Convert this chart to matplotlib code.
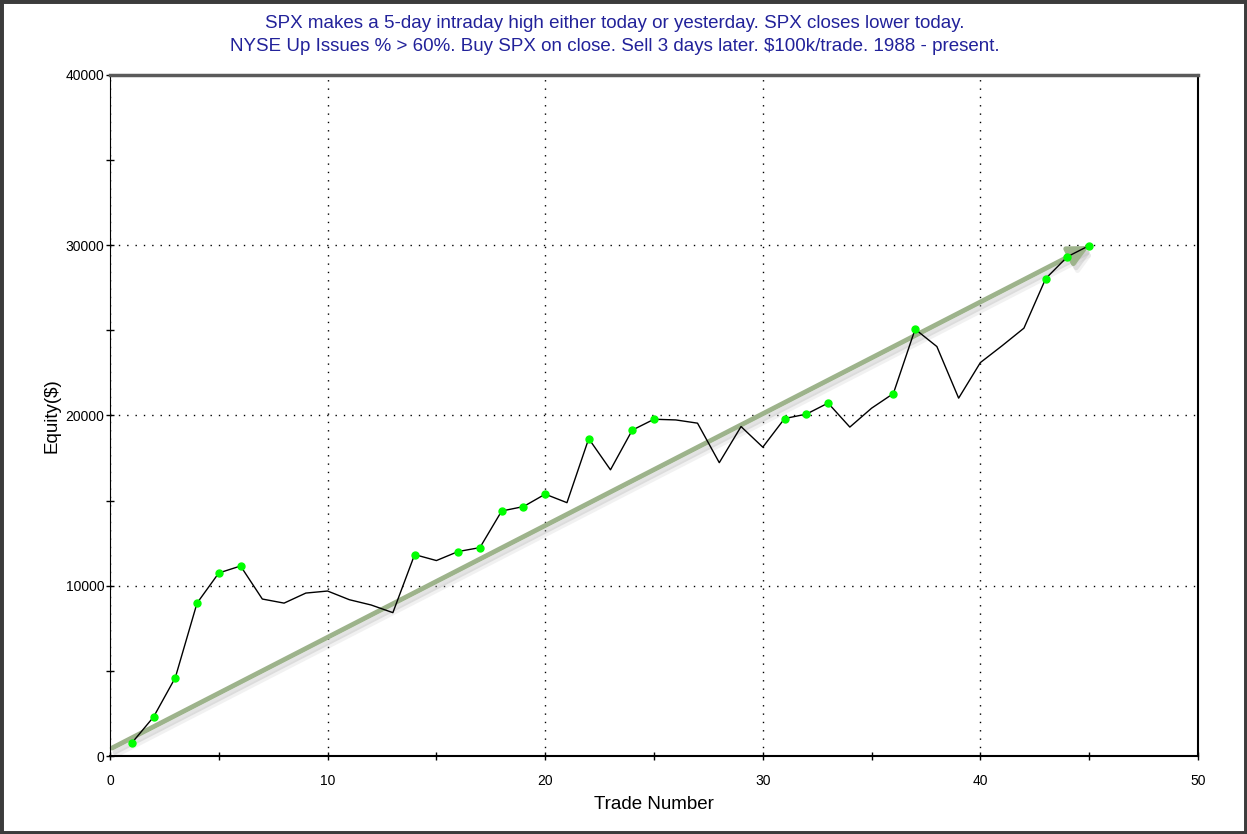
import matplotlib
matplotlib.use("Agg")
import matplotlib.pyplot as plt
import matplotlib.patheffects as pe
from matplotlib.patches import Rectangle
from matplotlib.ticker import MultipleLocator

# Equity curve per trade
trades = list(range(1, 46))
equity = [760, 2290, 4600, 8980, 10750, 11160, 9220, 8980, 9570, 9690,
          9180, 8870, 8420, 11830, 11480, 12010, 12240, 14390, 14650, 15380,
          14880, 18640, 16810, 19140, 19780, 19740, 19550, 17230, 19350, 18140,
          19820, 20080, 20730, 19320, 20430, 21290, 25070, 24050, 21020, 23110,
          24100, 25130, 28040, 29330, 29980]
# trades marked with a green dot (new equity highs)
marked = [1, 2, 3, 4, 5, 6, 14, 16, 17, 18, 19, 20, 22, 24, 25,
          31, 32, 33, 36, 37, 43, 44, 45]
# trend arrow end points
trend_x = [0.1, 45]
trend_y = [470, 29950]

title = ("SPX makes a 5-day intraday high either today or yesterday. SPX closes lower today.\n"
         "NYSE Up Issues % > 60%. Buy SPX on close. Sell 3 days later. $100k/trade. 1988 - present.")

plt.rcParams['font.family'] = ['Liberation Sans', 'DejaVu Sans']

fig = plt.figure(figsize=(12.47, 8.34), dpi=100)
ax = fig.add_axes([110 / 1247, 1 - 756 / 834, 1088 / 1247, 681 / 834])

ax.plot(trades, equity, color='black', lw=1, zorder=3)
mx = [t for t in marked]
my = [equity[t - 1] for t in marked]
ax.plot(mx, my, 'o', color='#00ff00', ms=5, mec='#00ff00', zorder=4)

ax.annotate('', xy=(trend_x[1], trend_y[1]), xytext=(trend_x[0], trend_y[0]),
            arrowprops=dict(arrowstyle='-|>', color='#9db38b', lw=3.5,
                            mutation_scale=30, shrinkA=0, shrinkB=0,
                            path_effects=[pe.SimpleLineShadow(offset=(2, -3), shadow_color='#b0b0b0', alpha=0.35),
                                          pe.SimpleLineShadow(offset=(3, -5), shadow_color='#c8c8c8', alpha=0.25),
                                          pe.Normal()]),
            zorder=2)

ax.set_xlim(0, 50)
ax.set_ylim(0, 40000)
ax.xaxis.set_major_locator(MultipleLocator(10))
ax.xaxis.set_minor_locator(MultipleLocator(5))
ax.yaxis.set_major_locator(MultipleLocator(10000))
ax.yaxis.set_minor_locator(MultipleLocator(5000))
ax.tick_params(which='both', direction='inout', length=6, width=1, labelsize=10)
ax.tick_params(axis='x', pad=10)
ax.tick_params(axis='y', pad=1)
ax.grid(True, which='major', color='black', linestyle=(0, (1, 5)), lw=1)

ax.spines['top'].set_color('#5a5a5a')
ax.spines['top'].set_linewidth(2.5)
ax.spines['right'].set_linewidth(1.5)
ax.spines['bottom'].set_linewidth(1.5)

ax.set_xlabel("Trade Number", fontsize=13.5, labelpad=6)
ax.set_ylabel("Equity($)", fontsize=13.5, labelpad=4)

fig.text(0.493, 0.958, title, ha='center', va='center', fontsize=13.5,
         color='#22229a', linespacing=1.5)

fig.patches.append(Rectangle((0, 0), 1, 1, transform=fig.transFigure,
                             fill=False, edgecolor='#3c3c3c', lw=5))

plt.savefig("out.png", dpi=100)
